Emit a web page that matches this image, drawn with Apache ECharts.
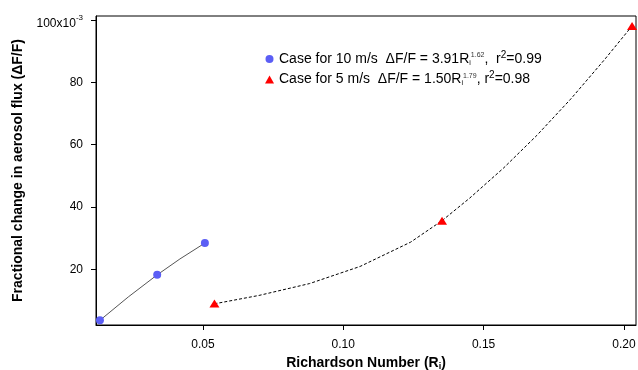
<!DOCTYPE html>
<html><head><meta charset="utf-8">
<script src="https://cdn.jsdelivr.net/npm/echarts@6/dist/echarts.min.js"></script>
<style>html,body{margin:0;padding:0;background:#fff}#c{width:638px;height:370px}</style>
</head><body><div id="c"></div>
<script>
// Richardson number (x) and fractional change (y, in units of 1e-3)
const ri10 = [0.0133, 0.0337, 0.0507];
const df10 = [3.6, 18.2, 28.4];
const ri5 = [0.0541, 0.1352, 0.2029];
const df5 = [9.0, 35.6, 98.1];
// fitted curves
const fit10X = [0.0133, 0.0234, 0.0337, 0.0418, 0.0507];
const fit10Y = [3.6, 11.1, 18.2, 23.3, 28.4];
const fit5X = [0.0541, 0.070, 0.088, 0.106, 0.124, 0.1352, 0.145, 0.157, 0.169, 0.181, 0.193, 0.2029];
const fit5Y = [8.9, 11.6, 15.4, 20.9, 28.7, 35.6, 42.8, 52.4, 63.0, 74.6, 87.2, 98.1];
const xTicks = [0.05, 0.10, 0.15, 0.20];
const yTicks = [20, 40, 60, 80, 100];
const legendNames = ['10 m/s', '5 m/s'];

const zip = (a, b) => a.map((v, i) => [v, b[i]]);
const font = 'Liberation Sans, Arial, sans-serif';
const chart = echarts.init(document.getElementById('c'));
chart.setOption({
  animation: false,
  textStyle: { fontFamily: font },
  grid: { left: 96, right: 2, top: 16, bottom: 45, outerBoundsMode: 'none', containLabel: false, show: true, borderColor: '#000', borderWidth: 1 },
  legend: {
    orient: 'vertical', left: 260, top: 45, itemWidth: 9, itemHeight: 8, itemGap: 4,
    data: [{ name: legendNames[0], icon: 'circle' }, { name: legendNames[1], icon: 'triangle' }],
    textStyle: {
      fontFamily: font, fontSize: 14, color: '#000',
      rich: {
        t: { fontSize: 14, color: '#000', fontFamily: font },
        sub: { fontSize: 7, color: '#000', fontFamily: font, padding: [8, 0, 0, 0] },
        sup: { fontSize: 7, color: '#333', fontFamily: font, padding: [0, 0, 7, 0] },
        sup2: { fontSize: 10, color: '#000', fontFamily: font, padding: [0, 0, 8, 0] }
      }
    },
    formatter: function (n) {
      if (n === legendNames[0]) return '{t|Case for 10 m/s  ΔF/F = 3.91R}{sub|i}{sup|1.62}{t|,  r}{sup2|2}{t|=0.99}';
      return '{t|Case for 5 m/s  ΔF/F = 1.50R}{sub|i}{sup|1.79}{t|, r}{sup2|2}{t|=0.98}';
    }
  },
  xAxis: {
    type: 'value', min: 0.0119, max: 0.2043,
    name: '{a|Richardson Number (R}{b|i}{a|)}', nameLocation: 'middle', nameGap: 29,
    nameTextStyle: { rich: { a: { fontSize: 14, fontWeight: 'bold', color: '#000', fontFamily: font }, b: { fontSize: 9, fontWeight: 'bold', color: '#000', fontFamily: font, padding: [8, 0, 0, 0] } } },
    axisLine: { show: true, onZero: false, lineStyle: { color: '#000', width: 1 } },
    axisTick: { show: true, length: 5, customValues: xTicks, lineStyle: { color: '#000' } },
    axisLabel: { customValues: xTicks, fontSize: 12, color: '#000', margin: 14, formatter: v => v.toFixed(2) },
    splitLine: { show: false }
  },
  yAxis: {
    type: 'value', min: 2.1, max: 101.3,
    name: 'Fractional change in aerosol flux (ΔF/F)', nameLocation: 'middle', nameGap: 68,
    nameTextStyle: { fontSize: 14, fontWeight: 'bold', color: '#000' },
    axisLine: { show: true, onZero: false, lineStyle: { color: '#000', width: 1 } },
    axisTick: { show: true, length: 5, customValues: yTicks, lineStyle: { color: '#000' } },
    axisLabel: {
      customValues: yTicks, fontSize: 12, color: '#000', margin: 13,
      formatter: v => v === 100 ? '{t|100x10}{s|-3}' : String(v),
      rich: { t: { fontSize: 12, color: '#000', fontFamily: font, padding: [7, 0, 0, 0] }, s: { fontSize: 8, color: '#000', fontFamily: font, padding: [0, 0, 4, 0] } }
    },
    splitLine: { show: false }
  },
  series: [
    { type: 'line', name: 'fit10', data: zip(fit10X, fit10Y), smooth: false, symbol: 'none', lineStyle: { color: '#555', width: 1 }, z: 2, silent: true },
    { type: 'line', name: 'fit5', data: zip(fit5X, fit5Y), smooth: false, symbol: 'none', lineStyle: { color: '#000', width: 1, type: [3, 2] }, z: 2, silent: true },
    { type: 'scatter', name: legendNames[0], data: zip(ri10, df10), symbol: 'circle', symbolSize: 8, itemStyle: { color: '#5b5ef5', opacity: 1 }, z: 3 },
    { type: 'scatter', name: legendNames[1], data: zip(ri5, df5), symbol: 'triangle', symbolSize: [10, 8], itemStyle: { color: '#ff0000', opacity: 1 }, z: 3 }
  ]
});
</script></body></html>
